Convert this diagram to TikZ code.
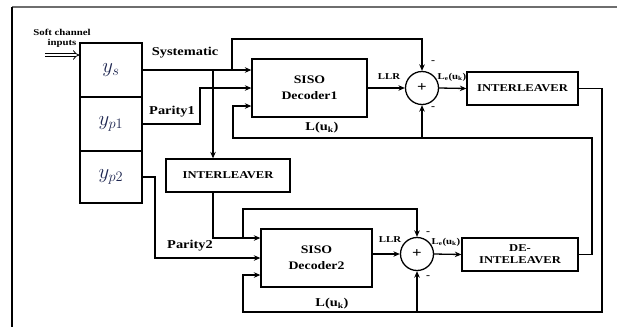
\documentclass[tikz,border=0pt]{standalone}
\usepackage{fontspec}
\usepackage{tikz}
\usetikzlibrary{arrows.meta, calc}
\newfontfamily\lblfont[FakeStretch=1.2]{Liberation Serif}
\definecolor{ynavy}{RGB}{30,38,80}
\definecolor{framegray}{RGB}{110,110,110}

\begin{document}
\begin{tikzpicture}[x=1pt, y=-1pt, >={Stealth[length=6.5pt,width=5.5pt]}, line width=1.3pt,
  blk/.style={draw, minimum height=33pt, align=center, inner sep=1pt,
              font=\lblfont\fontsize{10.5}{12}\selectfont\bfseries},
  dec/.style={draw, minimum width=115pt, minimum height=58pt, align=center,
              font=\lblfont\fontsize{11.5}{16}\selectfont\bfseries},
  inbox/.style={draw, minimum width=62pt, minimum height=54pt, text=ynavy,
                font=\fontsize{22}{24}\selectfont},
  sumc/.style={circle, draw, minimum size=33pt, inner sep=0pt,
               font=\lblfont\fontsize{14}{14}\selectfont\bfseries},
  lbl/.style={inner sep=0pt, font=\lblfont\fontsize{12}{13}\selectfont\bfseries},
  sml/.style={inner sep=0pt, font=\lblfont\fontsize{9}{10}\selectfont\bfseries},
  sgn/.style={inner sep=0pt, font=\lblfont\fontsize{10}{10}\selectfont\bfseries}]

\useasboundingbox (0,0) rectangle (617,327);
\draw[framegray, line width=1.2pt] (12,7) -- (617,7);
\draw[line width=1.2pt] (12,7) -- (12,327);

% channel inputs
\node[inbox] (ys) at (111,70) {$y_s$};
\node[inbox] (yp1) at (111,124) {$y_{p1}$};
\node[inbox, minimum height=52pt] (yp2) at (111,177) {$y_{p2}$};
\node[sml, align=center] (softin) at (62,38) {Soft channel\\inputs};
\coordinate (inp) at (45,55);
\draw[double, double distance=2.5pt, line width=0.8pt, -{Implies}] (inp) -- (inp -| ys.west);

% blocks
\node[dec] (dec1) at (309.5,88) {SISO\\Decoder1};
\node[sumc] (sum1) at (422,88) {+};
\node[blk, minimum width=111pt] (int1) at (522.5,88.5) {INTERLEAVER};
\node[blk, minimum width=124pt] (int2) at (228,175.5) {INTERLEAVER};
\node[dec, minimum width=111pt] (dec2) at (316.5,258) {SISO\\Decoder2};
\node[sumc] (sum2) at (417,254) {+};
\node[blk, minimum width=116pt] (deint) at (520,254.5) {DE-\\INTELEAVER};

% bends
\coordinate (b1) at (213,70);
\coordinate (b2) at (232,70);
\coordinate (t1) at (232,39);
\coordinate (p1) at (200,88);
\coordinate (r1) at (602,312);
\coordinate (l2) at (243,312);
\coordinate (r2) at (592,138);
\coordinate (l1) at (233,138);
\coordinate (b3) at (243,238);
\coordinate (t2) at (243,209);
\coordinate (p2) at (155,258);

% decoder 1
\draw[->] (ys.east) -- (ys.east -| dec1.west);
\draw[->] (b1) -- (b1 |- int2.north);
\draw[->] (b2) -- (t1) -| (sum1.north);
\draw[->] (yp1.east) -| (p1) -- (p1 -| dec1.west);
\draw[->] (dec1.east) -- (sum1.west);
\draw[->] (sum1.east) -- (int1.west);
\draw[->] (deint.east) -| (r2) -- (l1) |- ($(dec1.west)+(0,18)$);
\draw[->] (sum1 |- r2) -- (sum1.south);

% decoder 2
\draw[->] (b1 |- int2.south) |- ($(dec2.west)+(0,-20)$);
\draw[->] (b3) -- (t2) -| (sum2.north);
\draw[->] (yp2.east) -| (p2) -- (p2 -| dec2.west);
\draw[->] (sum2 -| dec2.east) -- (sum2.west);
\draw[->] (sum2.east) -- (deint.west);
\draw[->] (int1.east) -| (r1) -- (l2) |- ($(dec2.west)+(0,17)$);
\draw[->] (sum2 |- r1) -- (sum2.south);

% labels
\node[lbl] (systxt) at (185,53) {Systematic};
\node[lbl] (par1txt) at (172,112) {Parity1};
\node[lbl] (par2txt) at (190,246) {Parity2};
\node[lbl] (lu1txt) at (322,128) {L(u\textsubscript{k})};
\node[lbl] (lu2txt) at (332,304) {L(u\textsubscript{k})};
\node[sml] (llr1) at (389,77) {LLR};
\node[sml] (llr2) at (390,240) {LLR};
\node[sml] (le1) at (452,77) {L\textsubscript{e}(u\textsubscript{k})};
\node[sml] (le2) at (446,242) {L\textsubscript{e}(u\textsubscript{k})};
\node[sgn] (m1) at (433,62) {-};
\node[sgn] (m2) at (433,108) {-};
\node[sgn] (m3) at (428,233) {-};
\node[sgn] (m4) at (428,277) {-};
\end{tikzpicture}
\end{document}
